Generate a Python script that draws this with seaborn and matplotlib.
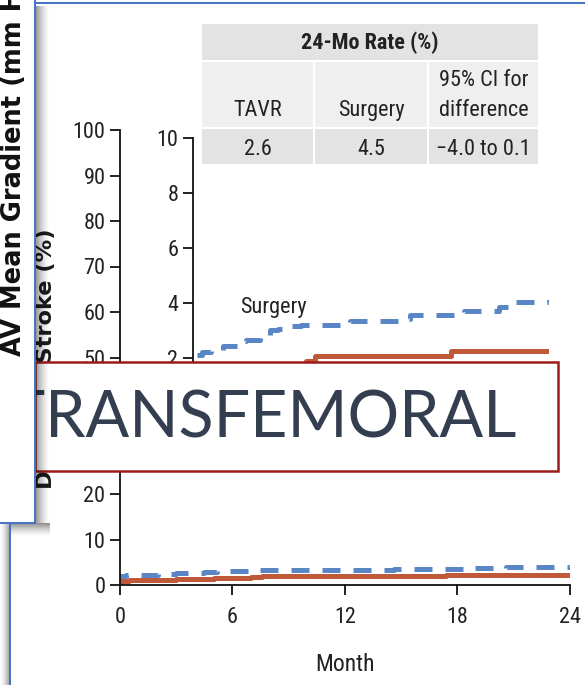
import numpy as np
import pandas as pd
import matplotlib
matplotlib.use("Agg")
import matplotlib.pyplot as plt
import seaborn as sns
from matplotlib.patches import Rectangle
from matplotlib import font_manager

# ---------------- data ----------------
surgery_months = [0, 0.05, 0.3, 0.6, 1.2, 2.0, 3.0, 3.6, 4.5, 5.2, 5.7, 6.3, 7.3, 10.0, 10.6, 14.3, 14.6, 18.1, 18.3, 20.6, 21.3, 24.0]
surgery_rate   = [0, 1.9, 2.1, 2.2, 2.3, 2.45, 2.6, 2.65, 2.85, 3.0, 3.05, 3.15, 3.2, 3.25, 3.35, 3.4, 3.55, 3.6, 3.7, 3.85, 4.05, 4.1]
tavr_months = [0, 0.05, 0.5, 1.0, 2.0, 3.0, 4.0, 5.0, 6.0, 7.0, 7.6, 8.2, 17.4, 24.0]
tavr_rate   = [0, 0.9, 1.0, 1.1, 1.2, 1.3, 1.4, 1.5, 1.6, 1.75, 1.9, 2.08, 2.27, 2.27]

group_names = ["Surgery", "TAVR"]
main_yticks = [0, 10, 20, 30, 40, 50, 60, 70, 80, 90, 100]
main_hidden_ticks = [30, 40]          # covered by the TRANSFEMORAL banner
inset_yticks = [2, 4, 6, 8, 10]
month_ticks = [0, 6, 12, 18, 24]

table_title = "24-Mo Rate (%)"
table_columns = ["TAVR", "Surgery", "95% CI for\ndifference"]
table_values = ["2.6", "4.5", "\u22124.0 to 0.1"]

overlay_title = "TRANSFEMORAL"
side_title = "AV Mean Gradient (mm Hg)"
y_title = "Disabling Stroke (%)"
x_title = "Month"

# ---------------- style ----------------
sns.set_theme(style="ticks")
installed = {f.name for f in font_manager.fontManager.ttflist}
cands = ["Roboto Condensed", "DejaVu Sans Condensed", "Liberation Sans Narrow",
         "Open Sans Condensed", "Roboto", "DejaVu Sans"]
NARROW = [c for c in cands if c in installed] + ["DejaVu Sans"]
plt.rcParams["font.family"] = NARROW

BLUE = "#5B86C5"
RED = "#C0583A"
palette = {"Surgery": BLUE, "TAVR": RED}
dashes = {"Surgery": (3.6, 2.6), "TAVR": ""}

df = pd.concat([
    pd.DataFrame({"month": surgery_months, "rate": surgery_rate, "group": group_names[0]}),
    pd.DataFrame({"month": tavr_months, "rate": tavr_rate, "group": group_names[1]}),
], ignore_index=True)

W, H = 585, 685
fig = plt.figure(figsize=(W / 100, H / 100), dpi=100)
fig.patch.set_facecolor("white")


def fx(px):
    return px / W


def fy(py):
    return 1 - py / H


def style_axis(ax):
    for s in ["left", "bottom"]:
        ax.spines[s].set_linewidth(1.3)
        ax.spines[s].set_color("#111111")
    ax.tick_params(axis="both", direction="out", length=7.5, width=1.3, color="#111111",
                   labelsize=16, labelcolor="#222222", pad=3)


# ---------------- main axes (0-100) ----------------
ax = fig.add_axes([fx(120), fy(585), fx(570) - fx(120), fy(130) - fy(585)])
sns.lineplot(data=df, x="month", y="rate", hue="group", style="group", palette=palette,
             dashes=dashes, drawstyle="steps-post", estimator=None, sort=False,
             linewidth=3.6, legend=False, ax=ax)
ax.set_xlim(0, 24)
ax.set_ylim(0, 100)
ax.set_xticks(month_ticks)
ax.set_yticks(main_yticks)
ax.set_yticklabels(["" if v in main_hidden_ticks else str(v) for v in main_yticks])
ax.set_xlabel(x_title, fontsize=17, color="#222222", labelpad=18)
ax.set_ylabel("")
sns.despine(ax=ax)
style_axis(ax)
ax.tick_params(axis="x", pad=8)

# ---------------- inset axes (0-10) ----------------
ins = fig.add_axes([fx(193), fy(413), fx(549) - fx(193), fy(138) - fy(413)])
ins.set_facecolor("none")
sns.lineplot(data=df, x="month", y="rate", hue="group", style="group", palette=palette,
             dashes=dashes, drawstyle="steps-post", estimator=None, sort=False,
             linewidth=3.6, legend=False, ax=ins)
ins.set_xlim(0, 24)
ins.set_ylim(0, 10)
ins.set_yticks(inset_yticks)
ins.set_xticks([])
ins.set_xlabel("")
ins.set_ylabel("")
sns.despine(ax=ins, bottom=True)
style_axis(ins)
ins.text(5.4, 3.85, group_names[0], fontsize=16, color="#222222", ha="center", va="center")

# ---------------- overlay in pixel coordinates ----------------
ov = fig.add_axes([0, 0, 1, 1], zorder=10)
ov.set_xlim(0, W)
ov.set_ylim(H, 0)
ov.axis("off")
ov.patch.set_alpha(0)

# table
GRAY1 = "#E3E3E3"
GRAY2 = "#EFEFEF"
ov.add_patch(Rectangle((202, 24), 336, 36, facecolor=GRAY1, edgecolor="none", zorder=2))
ov.text(370, 43, table_title, fontsize=16, fontweight="bold", color="#222222",
        ha="center", va="center", zorder=3)
col_x = [(202, 313), (315, 427), (429, 538)]
for (x0, x1), lab, val in zip(col_x, table_columns, table_values):
    ov.add_patch(Rectangle((x0, 62), x1 - x0, 65, facecolor=GRAY2, edgecolor="none", zorder=2))
    ov.add_patch(Rectangle((x0, 129), x1 - x0, 35, facecolor=GRAY1, edgecolor="none", zorder=2))
    lines = lab.split("\n")
    for i, ln in enumerate(reversed(lines)):
        ov.text((x0 + x1) / 2, 116 - i * 30, ln, fontsize=16, color="#222222",
                ha="center", va="baseline", zorder=3)
    ov.text((x0 + x1) / 2, 155, val, fontsize=16, color="#222222",
            ha="center", va="baseline", zorder=3)

# main y label (partially hidden by the banner)
ov.text(52, 489, y_title, rotation=90, rotation_mode="anchor", fontsize=16.2, fontweight="bold",
        family=["DejaVu Sans"], color="#1a1a1a", ha="left", va="baseline", zorder=4)

# TRANSFEMORAL banner
ov.add_patch(Rectangle((35, 362), 523, 109, facecolor="white", edgecolor="#9E1A1A",
                       linewidth=1.8, zorder=6))
ov.text(7, 419, overlay_title, fontsize=46.5, family=["Lato", "DejaVu Sans"], color="#333F50",
        ha="left", va="center", zorder=7)


def grad(x0, x1, y0, y1, horizontal, reverse=False, amax=0.45, z=8):
    n = 64
    a = np.linspace(amax, 0, n) ** 1.5 / amax ** 0.5
    if reverse:
        a = a[::-1]
    if horizontal:
        img = np.zeros((1, n, 4))
        img[0, :, 3] = a
    else:
        img = np.zeros((n, 1, 4))
        img[:, 0, 3] = a
    ov.imshow(img, extent=(x0, x1, y1, y0), aspect="auto", zorder=z, interpolation="bilinear")


# back panel at lower left
ov.add_patch(Rectangle((-5, 515), 15, 180, facecolor="white", edgecolor="none", zorder=8))
grad(0, 10, 515, 685, True, reverse=True, amax=0.4)
ov.plot([10, 10], [515, 690], color="#4472C4", lw=1.4, zorder=9, solid_capstyle="butt")

# left panel with shadow
grad(35, 50, 6, 523, True, amax=0.45, z=8)
grad(10, 50, 523, 537, False, amax=0.45, z=8)
ov.add_patch(Rectangle((-5, -5), 40, 528, facecolor="white", edgecolor="#4472C4",
                       linewidth=1.4, zorder=9))
clip = Rectangle((0, 0), 35, 523, transform=ov.transData)
t = ov.text(21, 356, side_title, rotation=90, rotation_mode="anchor", fontsize=18.5,
            fontweight="bold", family=["DejaVu Sans"], color="#111111",
            ha="left", va="baseline", zorder=10)
t.set_clip_path(clip)
ov.plot([35, 585], [3, 3], color="#4472C4", lw=1.4, zorder=9)

ov.set_xlim(0, W)
ov.set_ylim(H, 0)

fig.savefig("out.png", dpi=100, facecolor="white")
